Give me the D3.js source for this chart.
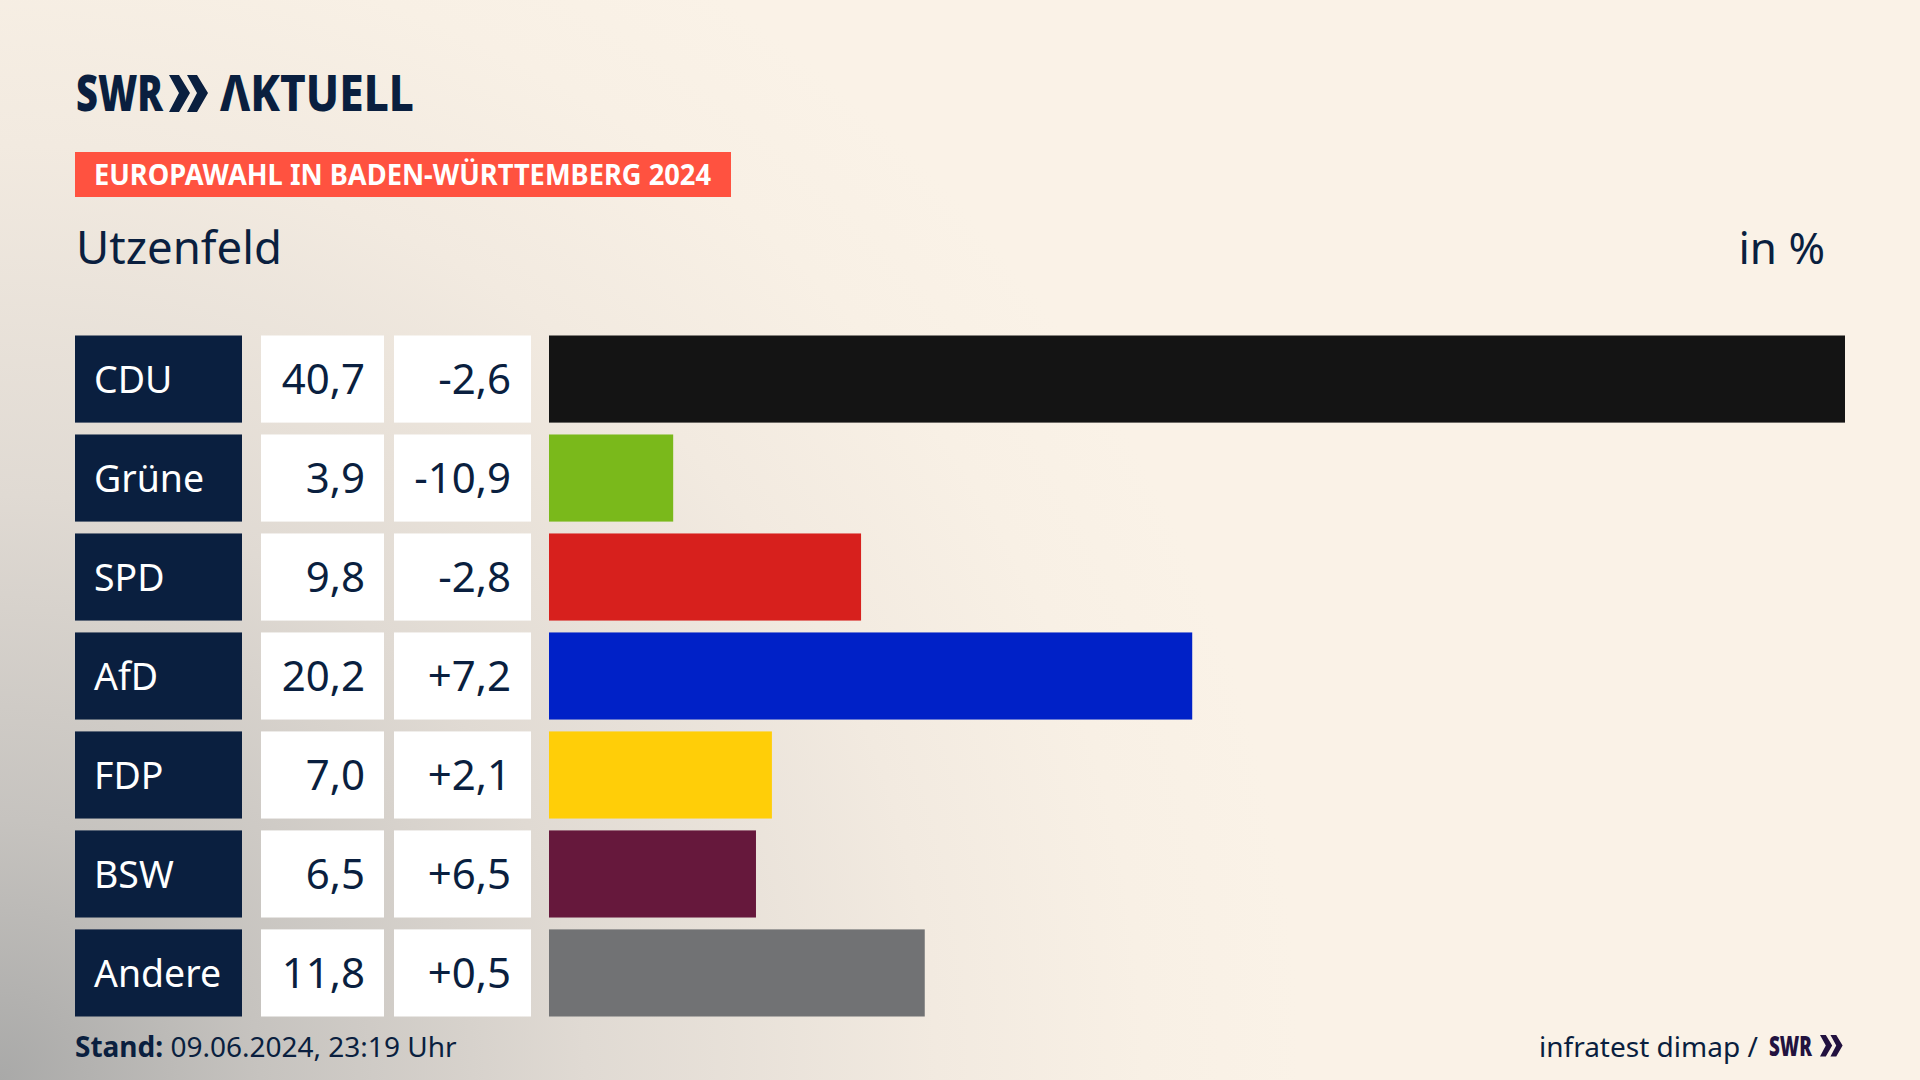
<!DOCTYPE html>
<html>
<head>
<meta charset="utf-8">
<script src="https://cdn.jsdelivr.net/npm/d3@7"></script>
<style>
    html, body { margin: 0; padding: 0; background: #faf2e7; }
    svg { display: block; }
    text { font-family: "Noto Sans", sans-serif; fill: #0a1f3f; }
</style>
</head>
<body>
<script>
const parties = ['CDU', 'Grüne', 'SPD', 'AfD', 'FDP', 'BSW', 'Andere'];
const shares = [40.7, 3.9, 9.8, 20.2, 7.0, 6.5, 11.8];
const changes = [-2.6, -10.9, -2.8, 7.2, 2.1, 6.5, 0.5];
const partyColors = ['#141414', '#7ab91b', '#d7201d', '#0021c7', '#ffce08', '#66183c', '#717274'];

const config = {
    width: 1920,
    height: 1080,
    navy: '#0a1f3f',
    chevron: 'M0,0 L10,0 L21,18 L10,37 L0,37 L10,18 Z',
};

const fmtShare = v => d3.format('.1f')(v).replace('.', ',');
const fmtChange = v => d3.format('+.1f')(v).replace('.', ',').replace('−', '-');

const svg = d3.select('body')
    .append('svg')
    .attr('width', config.width)
    .attr('height', config.height);

// Background glow from the lower left corner
const defs = svg.append('defs');
const glow = defs.append('radialGradient')
    .attr('id', 'glow')
    .attr('gradientUnits', 'userSpaceOnUse')
    .attr('cx', 0).attr('cy', 1080).attr('r', 1300);
[[0, '#a9a9a8'], [0.2, '#c6c3bf'], [0.45, '#e0dad3'], [0.72, '#f2eae0'], [0.88, '#f8f0e5'], [1, '#faf2e7']]
    .forEach(s => glow.append('stop').attr('offset', s[0]).attr('stop-color', s[1]));

svg.append('rect').attr('width', config.width).attr('height', config.height).attr('fill', 'url(#glow)');

// Scales
const y = d3.scaleBand().domain(parties).range([335.5, 1016.5]).paddingInner(0.12);
const x = d3.scaleLinear().domain([0, 40.7]).range([549, 1845]);

// Logo
function chevrons(g, tx, ty, scale, fill) {
    [0, 1].forEach(i => {
        g.append('path')
            .attr('d', config.chevron)
            .attr('transform', `translate(${tx + i * 18 * scale},${ty}) scale(${scale})`)
            .attr('fill', fill);
    });
}

svg.append('text')
    .attr('x', 76).attr('y', 111)
    .attr('textLength', 87).attr('lengthAdjust', 'spacingAndGlyphs')
    .style('font-size', '49px').style('font-weight', 900)
    .text('SWR');
chevrons(svg, 169, 75, 1, config.navy);
svg.append('text')
    .attr('x', 220).attr('y', 111)
    .attr('textLength', 194).attr('lengthAdjust', 'spacingAndGlyphs')
    .style('font-size', '49px').style('font-weight', 800)
    .text('ΛKTUELL');

// Header
svg.append('rect')
    .attr('x', 75).attr('y', 152).attr('width', 656).attr('height', 45)
    .attr('fill', '#ff5240');
svg.append('text')
    .attr('x', 94).attr('y', 185)
    .attr('textLength', 617).attr('lengthAdjust', 'spacingAndGlyphs')
    .style('font-size', '29px').style('font-weight', 700).style('fill', '#fff')
    .text('EUROPAWAHL IN BADEN-WÜRTTEMBERG 2024');
svg.append('text')
    .attr('x', 76).attr('y', 264)
    .style('font-size', '45.5px')
    .text('Utzenfeld');
svg.append('text')
    .attr('x', 1825).attr('y', 264).attr('text-anchor', 'end')
    .style('font-size', '44px')
    .text('in %');

// Rows
const row = svg.selectAll('g.row')
    .data(parties).enter()
    .append('g')
    .attr('class', 'row')
    .attr('transform', d => `translate(0,${y(d)})`);

const rowHeight = y.bandwidth();
const textY = rowHeight / 2 + 15;

row.append('rect')
    .attr('x', 75).attr('width', 167).attr('height', rowHeight)
    .attr('fill', config.navy);
row.append('text')
    .attr('transform', `translate(94,${textY - 1}) scale(0.96,1)`)
    .style('font-size', '39px').style('fill', '#fff')
    .text(d => d);

row.append('rect')
    .attr('x', 261).attr('width', 123).attr('height', rowHeight)
    .attr('fill', '#fff');
row.append('text')
    .attr('x', 365).attr('y', textY).attr('text-anchor', 'end')
    .style('font-size', '42px')
    .text((d, i) => fmtShare(shares[i]));

row.append('rect')
    .attr('x', 394).attr('width', 137).attr('height', rowHeight)
    .attr('fill', '#fff');
row.append('text')
    .attr('x', 511).attr('y', textY).attr('text-anchor', 'end')
    .style('font-size', '42px')
    .text((d, i) => fmtChange(changes[i]));

row.append('rect')
    .attr('x', x(0))
    .attr('width', (d, i) => x(shares[i]) - x(0))
    .attr('height', rowHeight)
    .attr('fill', (d, i) => partyColors[i]);

// Footer
const stand = svg.append('text')
    .attr('x', 75).attr('y', 1057)
    .style('font-size', '28px');
stand.append('tspan').style('font-weight', 700).text('Stand:');
stand.append('tspan').text(' 09.06.2024, 23:19 Uhr');

svg.append('text')
    .attr('x', 1539).attr('y', 1056.5)
    .style('font-size', '28px')
    .text('infratest dimap /');
svg.append('text')
    .attr('x', 1769).attr('y', 1056)
    .attr('textLength', 43).attr('lengthAdjust', 'spacingAndGlyphs')
    .style('font-size', '29px').style('font-weight', 900).style('fill', '#22123f')
    .text('SWR');
chevrons(svg, 1820, 1035, 0.58, '#22123f');
</script>
</body>
</html>
